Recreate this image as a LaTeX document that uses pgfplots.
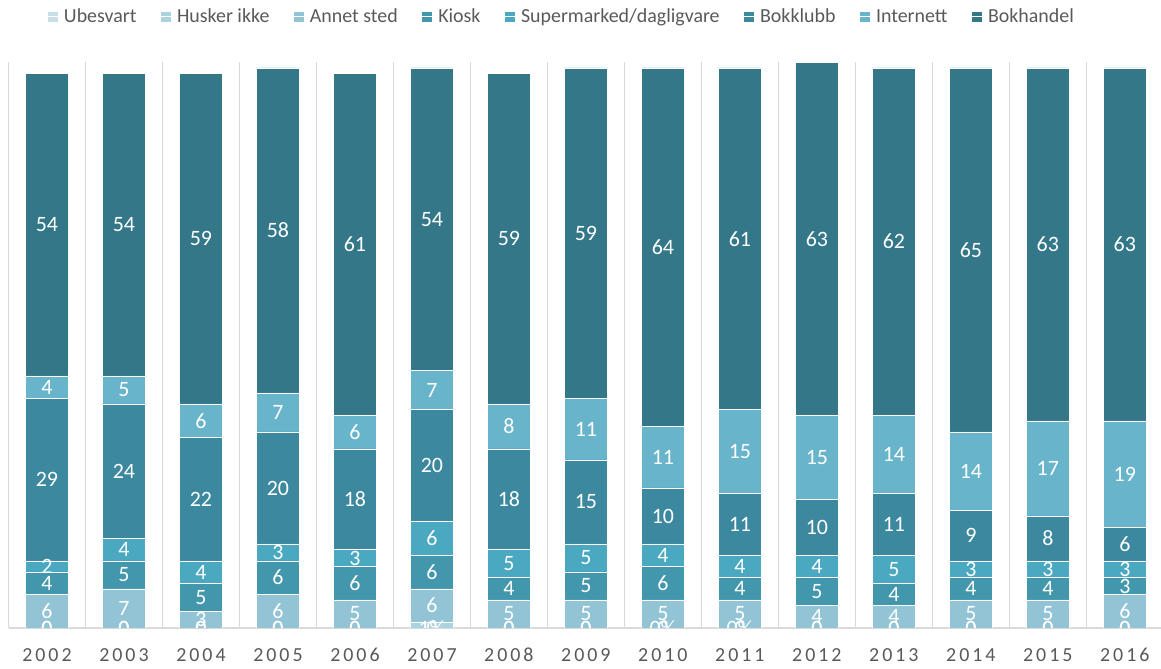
\documentclass[border=0pt]{standalone}
\usepackage{pgfplots}
\pgfplotsset{compat=1.18}
\usepackage{pgfplotstable}
\usepackage{fontspec}
\setmainfont{Carlito}
\newfontfamily\yearfont[LetterSpace=15]{Carlito}

\definecolor{cUb}{HTML}{C6DFE8}
\definecolor{cHi}{HTML}{AAD2DF}
\definecolor{cAn}{HTML}{93C4D5}
\definecolor{cKi}{HTML}{4397AD}
\definecolor{cSu}{HTML}{4AA8C0}
\definecolor{cBk}{HTML}{3C889F}
\definecolor{cIn}{HTML}{68B4CB}
\definecolor{cBh}{HTML}{337788}
\definecolor{gridgray}{HTML}{D9D9D9}
\definecolor{labelgray}{HTML}{595959}

\pgfplotstableread{
x ub hi hil an ki su bk in bh
0  0 0 0    6 4 2 29 4  54
1  0 0 0    7 5 4 24 5  54
2  0 0 0    3 5 4 22 6  59
3  0 0 0    6 6 3 20 7  58
4  0 0 0    5 6 3 18 6  61
5  0 1 1\%  6 6 6 20 7  54
6  0 0 0    5 4 5 18 8  59
7  0 0 0    5 5 5 15 11 59
8  0 0 0\%  5 6 4 10 11 64
9  0 0 0\%  5 4 4 11 15 61
10 0 0 0    4 5 4 10 15 63
11 0 0 0    4 4 5 11 14 62
12 0 0 0    5 4 3 9  14 65
13 0 0 0    5 4 3 8  17 63
14 0 0 0    6 3 3 6  19 63
}\data

\tikzset{lbl/.style={font=\fontsize{22}{24}\selectfont, text=white, anchor=center}}
\pgfplotsset{
  mybar/.style={draw=white, line width=0.5bp,
    legend image code/.code={\path[##1,draw=none] (0bp,-5bp) rectangle (10bp,5bp); \path (0bp,0bp) -- (14bp,0bp);}},
  geom/.style={at={(8.5bp,41bp)}, anchor=south west,
    scale only axis, width=1152.5bp, height=565.6bp,
    xmin=-0.5, xmax=14.47, ymin=0, ymax=101},
}

\begin{document}
\begin{tikzpicture}
\begin{axis}[
  geom,
  ybar stacked, bar width=43bp,
  xtick={0,...,14},
  xticklabels={2002,2003,2004,2005,2006,2007,2008,2009,2010,2011,2012,2013,2014,2015,2016},
  minor xtick={-0.5,0.5,...,13.5},
  xminorgrids, minor grid style={draw=gridgray, line width=1bp},
  major tick length=0pt, minor tick length=0pt,
  ytick=\empty,
  axis x line*=bottom, axis y line=none,
  x axis line style={draw=gridgray, line width=1.5bp},
  xticklabel style={font=\yearfont\fontsize{20}{24}\selectfont, text=labelgray, anchor=center, yshift=-27bp},
  clip marker paths=true,
  point meta=explicit symbolic,
  nodes near coords={\pgfplotspointmeta},
  every node near coord/.append style={lbl},
  legend style={at={(axis description cs:0.48,1.081)}, anchor=center, draw=none, fill=none,
     font=\fontsize{20}{24}\selectfont, text=labelgray,
     /tikz/every even column/.append style={column sep=22bp}},
  legend columns=-1,
]
\addplot[mybar, fill=cUb, nodes near coords={}] table[x=x, y=ub, meta=ub] \data;
\addplot[mybar, fill=cHi, nodes near coords={}] table[x=x, y=hi, meta=hil] \data;
\addplot[mybar, fill=cAn] table[x=x, y=an, meta=an] \data;
\addplot[mybar, fill=cKi] table[x=x, y=ki, meta=ki] \data;
\addplot[mybar, fill=cSu] table[x=x, y=su, meta=su] \data;
\addplot[mybar, fill=cBk] table[x=x, y=bk, meta=bk] \data;
\addplot[mybar, fill=cIn] table[x=x, y=in, meta=in] \data;
\addplot[mybar, fill=cBh] table[x=x, y=bh, meta=bh] \data;
\legend{Ubesvart, Husker ikke, Annet sted, Kiosk, Supermarked/dagligvare, Bokklubb, Internett, Bokhandel}
\end{axis}
% overlay: labels of the two bottom (near-zero) series, drawn on top
\begin{axis}[
  geom, hide axis,
  clip marker paths=true,
  point meta=explicit symbolic,
  nodes near coords={\pgfplotspointmeta},
  every node near coord/.append style={lbl},
]
\addplot[draw=none, mark=none] table[x=x, y=ub, meta=ub] \data;
\addplot[draw=none, mark=none] table[x=x, y=ub, meta=hil] \data;
\end{axis}
\pgfresetboundingbox
\path[use as bounding box] (0,0) rectangle (1161bp,669bp);
\end{tikzpicture}
\end{document}
